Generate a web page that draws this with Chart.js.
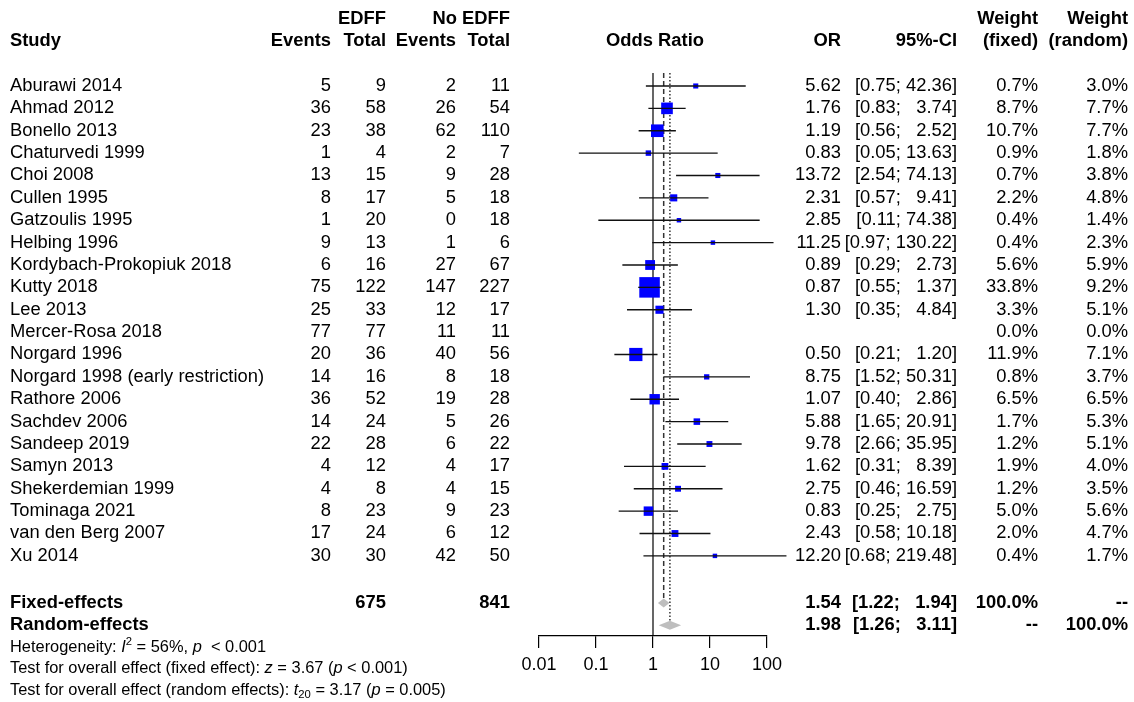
<!DOCTYPE html>
<html>
<head>
<meta charset="utf-8">
<script src="https://cdn.jsdelivr.net/npm/chart.js@4.4.1/dist/chart.umd.min.js"></script>
<style>
  html, body { margin: 0; padding: 0; background: #fff; }
  #wrap { width: 1134px; height: 702px; }
</style>
</head>
<body>
<div id="wrap"><canvas id="forest" width="1134" height="702"></canvas></div>
<script>
// Study data
const studies = ["Aburawi 2014", "Ahmad 2012", "Bonello 2013", "Chaturvedi 1999", "Choi 2008",
  "Cullen 1995", "Gatzoulis 1995", "Helbing 1996", "Kordybach-Prokopiuk 2018", "Kutty 2018",
  "Lee 2013", "Mercer-Rosa 2018", "Norgard 1996", "Norgard 1998 (early restriction)", "Rathore 2006",
  "Sachdev 2006", "Sandeep 2019", "Samyn 2013", "Shekerdemian 1999", "Tominaga 2021",
  "van den Berg 2007", "Xu 2014"];
const eventsE = [5, 36, 23, 1, 13, 8, 1, 9, 6, 75, 25, 77, 20, 14, 36, 14, 22, 4, 4, 8, 17, 30];
const totalE = [9, 58, 38, 4, 15, 17, 20, 13, 16, 122, 33, 77, 36, 16, 52, 24, 28, 12, 8, 23, 24, 30];
const eventsC = [2, 26, 62, 2, 9, 5, 0, 1, 27, 147, 12, 11, 40, 8, 19, 5, 6, 4, 4, 9, 6, 42];
const totalC = [11, 54, 110, 7, 28, 18, 18, 6, 67, 227, 17, 11, 56, 18, 28, 26, 22, 17, 15, 23, 12, 50];
const oddsRatio = [5.62, 1.76, 1.19, 0.83, 13.72, 2.31, 2.85, 11.25, 0.89, 0.87, 1.30, null,
  0.50, 8.75, 1.07, 5.88, 9.78, 1.62, 2.75, 0.83, 2.43, 12.20];
const ciLower = [0.75, 0.83, 0.56, 0.05, 2.54, 0.57, 0.11, 0.97, 0.29, 0.55, 0.35, null,
  0.21, 1.52, 0.40, 1.65, 2.66, 0.31, 0.46, 0.25, 0.58, 0.68];
const ciUpper = [42.36, 3.74, 2.52, 13.63, 74.13, 9.41, 74.38, 130.22, 2.73, 1.37, 4.84, null,
  1.20, 50.31, 2.86, 20.91, 35.95, 8.39, 16.59, 2.75, 10.18, 219.48];
const weightFixed = [0.7, 8.7, 10.7, 0.9, 0.7, 2.2, 0.4, 0.4, 5.6, 33.8, 3.3, 0.0,
  11.9, 0.8, 6.5, 1.7, 1.2, 1.9, 1.2, 5.0, 2.0, 0.4];
const weightRandom = [3.0, 7.7, 7.7, 1.8, 3.8, 4.8, 1.4, 2.3, 5.9, 9.2, 5.1, 0.0,
  7.1, 3.7, 6.5, 5.3, 5.1, 4.0, 3.5, 5.6, 4.7, 1.7];

// Pooled results: [OR, lower, upper]
const fixedEffect = [1.54, 1.22, 1.94];
const randomEffect = [1.98, 1.26, 3.11];
const pooledTotals = [675, 841];

const tickVals = [0.01, 0.1, 1, 10, 100];
const tickLabels = ["0.01", "0.1", "1", "10", "100"];

const FONT = "'Liberation Sans', Arial, sans-serif";
const ROW_FIXED = 23.1, ROW_RANDOM = 24.1;

const fmtCI = (lo, up) => {
  const u = up.toFixed(2);
  const pad = u.length >= 5 ? " " : " ".repeat(1 + 2 * (5 - u.length));
  return "[" + lo.toFixed(2) + ";" + pad + u + "]";
};

// square side follows the fixed-effect weight
const squareSide = weightFixed.map(w => 3.1 * Math.sqrt(w) + 2.5);

// reference lines, diamonds, CI lines
const marksPlugin = {
  id: 'forestMarks',
  beforeDatasetsDraw(chart) {
    const ctx = chart.ctx, x = chart.scales.x, y = chart.scales.y;
    const top = chart.chartArea.top, bottom = chart.chartArea.bottom;
    ctx.save();
    // line of no effect
    ctx.strokeStyle = '#000';
    ctx.lineWidth = 1.2;
    ctx.beginPath();
    ctx.moveTo(x.getPixelForValue(1), top);
    ctx.lineTo(x.getPixelForValue(1), bottom);
    ctx.stroke();
    // fixed effect (dashed)
    ctx.strokeStyle = '#333';
    ctx.lineWidth = 1.5;
    ctx.setLineDash([5, 3]);
    ctx.beginPath();
    ctx.moveTo(x.getPixelForValue(fixedEffect[0]), top);
    ctx.lineTo(x.getPixelForValue(fixedEffect[0]), y.getPixelForValue(ROW_FIXED) - 4.5);
    ctx.stroke();
    // random effects (dotted)
    ctx.setLineDash([1.5, 2]);
    ctx.beginPath();
    ctx.moveTo(x.getPixelForValue(randomEffect[0]), top);
    ctx.lineTo(x.getPixelForValue(randomEffect[0]), y.getPixelForValue(ROW_RANDOM) - 4.5);
    ctx.stroke();
    ctx.setLineDash([]);
    // diamonds
    ctx.fillStyle = '#bebebe';
    [[fixedEffect, ROW_FIXED], [randomEffect, ROW_RANDOM]].forEach(([est, row]) => {
      const cy = y.getPixelForValue(row);
      ctx.beginPath();
      ctx.moveTo(x.getPixelForValue(est[1]), cy);
      ctx.lineTo(x.getPixelForValue(est[0]), cy - 4.5);
      ctx.lineTo(x.getPixelForValue(est[2]), cy);
      ctx.lineTo(x.getPixelForValue(est[0]), cy + 4.5);
      ctx.closePath();
      ctx.fill();
    });
    ctx.restore();
  },
  afterDatasetsDraw(chart) {
    const ctx = chart.ctx, x = chart.scales.x, y = chart.scales.y;
    ctx.save();
    ctx.strokeStyle = '#111';
    ctx.lineWidth = 1.3;
    studies.forEach((s, i) => {
      if (ciLower[i] == null) return;
      const cy = y.getPixelForValue(i);
      ctx.beginPath();
      ctx.moveTo(x.getPixelForValue(ciLower[i]), cy);
      ctx.lineTo(x.getPixelForValue(ciUpper[i]), cy);
      ctx.stroke();
    });
    ctx.restore();
  }
};

// table text
const textPlugin = {
  id: 'forestText',
  afterDraw(chart) {
    const ctx = chart.ctx, y = chart.scales.y;
    ctx.save();
    ctx.fillStyle = '#000';
    ctx.textBaseline = 'middle';
    // text in the reference is a touch wider than plain Arial
    const put = (txt, xp, row, align, bold) => {
      ctx.font = (bold ? 'bold ' : '') + '18px ' + FONT;
      ctx.textAlign = align;
      ctx.save();
      ctx.translate(xp, y.getPixelForValue(row));
      ctx.scale(1.02, 1);
      ctx.fillText(String(txt), 0, 0);
      ctx.restore();
    };
    // headers
    put("EDFF", 386, -3, 'right', true);
    put("No EDFF", 510, -3, 'right', true);
    put("Weight", 1038, -3, 'right', true);
    put("Weight", 1128, -3, 'right', true);
    put("Study", 10, -2, 'left', true);
    put("Events", 331, -2, 'right', true);
    put("Total", 386, -2, 'right', true);
    put("Events", 456, -2, 'right', true);
    put("Total", 510, -2, 'right', true);
    put("Odds Ratio", chart.scales.x.getPixelForValue(1) + 2, -2, 'center', true);
    put("OR", 841, -2, 'right', true);
    put("95%-CI", 957, -2, 'right', true);
    put("(fixed)", 1038, -2, 'right', true);
    put("(random)", 1128, -2, 'right', true);

    studies.forEach((s, i) => {
      put(s, 10, i, 'left');
      put(eventsE[i], 331, i, 'right');
      put(totalE[i], 386, i, 'right');
      put(eventsC[i], 456, i, 'right');
      put(totalC[i], 510, i, 'right');
      if (oddsRatio[i] != null) {
        put(oddsRatio[i].toFixed(2), 841, i, 'right');
        put(fmtCI(ciLower[i], ciUpper[i]), 957, i, 'right');
      }
      put(weightFixed[i].toFixed(1) + "%", 1038, i, 'right');
      put(weightRandom[i].toFixed(1) + "%", 1128, i, 'right');
    });

    put("Fixed-effects", 10, ROW_FIXED, 'left', true);
    put(pooledTotals[0], 386, ROW_FIXED, 'right', true);
    put(pooledTotals[1], 510, ROW_FIXED, 'right', true);
    put(fixedEffect[0].toFixed(2), 841, ROW_FIXED, 'right', true);
    put(fmtCI(fixedEffect[1], fixedEffect[2]), 957, ROW_FIXED, 'right', true);
    put("100.0%", 1038, ROW_FIXED, 'right', true);
    put("--", 1128, ROW_FIXED, 'right', true);

    put("Random-effects", 10, ROW_RANDOM, 'left', true);
    put(randomEffect[0].toFixed(2), 841, ROW_RANDOM, 'right', true);
    put(fmtCI(randomEffect[1], randomEffect[2]), 957, ROW_RANDOM, 'right', true);
    put("--", 1038, ROW_RANDOM, 'right', true);
    put("100.0%", 1128, ROW_RANDOM, 'right', true);

    // statistics lines with italic / super / subscripts
    const rich = (parts, row) => {
      let xp = 10;
      const cy = y.getPixelForValue(row);
      ctx.textAlign = 'left';
      parts.forEach(p => {
        const small = p.sup || p.sub;
        ctx.font = (p.it ? 'italic ' : '') + (small ? 11 : 16) + 'px ' + FONT;
        const dy = p.sup ? -6 : (p.sub ? 5 : 0);
        ctx.save();
        ctx.translate(xp, cy + dy);
        ctx.scale(1.025, 1);
        ctx.fillText(p.t, 0, 0);
        ctx.restore();
        xp += ctx.measureText(p.t).width * 1.025;
      });
    };
    rich([{ t: "Heterogeneity: " }, { t: "I", it: true }, { t: "2", sup: true }, { t: " = 56%, " },
      { t: "p", it: true }, { t: "  < 0.001" }], 25.1);
    rich([{ t: "Test for overall effect (fixed effect): " }, { t: "z", it: true }, { t: " = 3.67 (" },
      { t: "p", it: true }, { t: " < 0.001)" }], 26.05);
    rich([{ t: "Test for overall effect (random effects): " }, { t: "t", it: true }, { t: "20", sub: true },
      { t: " = 3.17 (" }, { t: "p", it: true }, { t: " = 0.005)" }], 27.0);
    ctx.restore();
  }
};

const ctx = document.getElementById('forest').getContext('2d');
new Chart(ctx, {
  type: 'scatter',
  data: {
    datasets: [{
      label: 'OR',
      data: studies.map((s, i) => ({ x: oddsRatio[i], y: i })),
      pointStyle: 'rect',
      pointRadius: squareSide.map(s => s / Math.SQRT2),
      pointHoverRadius: squareSide.map(s => s / Math.SQRT2),
      backgroundColor: '#0000ff',
      borderColor: '#0000cc',
      borderWidth: 0,
      clip: false
    }]
  },
  options: {
    responsive: false,
    animation: false,
    events: [],
    layout: { padding: { left: 539, right: 367, top: 73, bottom: 26 } },
    plugins: { legend: { display: false }, tooltip: { enabled: false } },
    scales: {
      x: {
        type: 'logarithmic',
        min: 0.01,
        max: 100,
        position: 'bottom',
        afterBuildTicks: (axis) => { axis.ticks = tickVals.map(v => ({ value: v })); },
        afterFit: (axis) => { axis.height = 40; },
        grid: { drawOnChartArea: false, drawTicks: true, tickLength: 12, color: '#000', lineWidth: 1.2 },
        border: { display: true, color: '#000', width: 1.2 },
        ticks: {
          color: '#000',
          font: { family: FONT, size: 18 },
          padding: 6,
          autoSkip: false,
          maxRotation: 0,
          callback: (v, i) => tickLabels[i]
        }
      },
      y: {
        type: 'linear',
        min: -0.58,
        max: 24.58,
        reverse: true,
        display: false
      }
    }
  },
  plugins: [marksPlugin, textPlugin]
});
</script>
</body>
</html>
